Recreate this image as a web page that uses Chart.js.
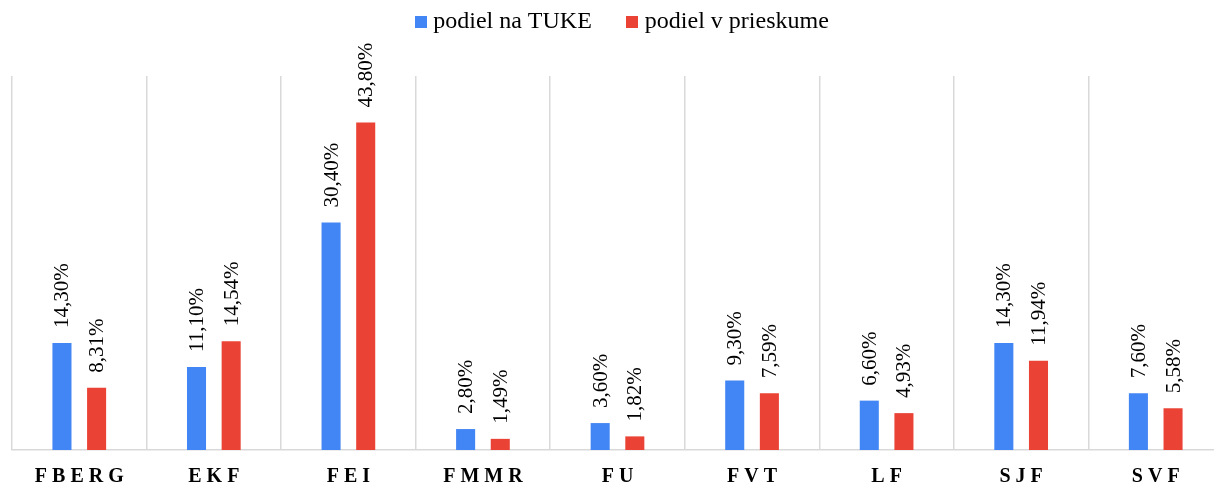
<!DOCTYPE html>
<html>
<head>
<meta charset="utf-8">
<script src="https://cdn.jsdelivr.net/npm/chart.js@4.4.1/dist/chart.umd.min.js"></script>
<style>
  html, body { margin: 0; padding: 0; background: #fff; overflow: hidden; }
  #wrap { position: relative; width: 1230px; height: 504px; }
</style>
</head>
<body>
<div id="wrap"><canvas id="chart"></canvas></div>
<script>
const faculties = ["FBERG", "EKF", "FEI", "FMMR", "FU", "FVT", "LF", "SJF", "SVF"];
const shareTuke = [14.30, 11.10, 30.40, 2.80, 3.60, 9.30, 6.60, 14.30, 7.60];
const shareSurvey = [8.31, 14.54, 43.80, 1.49, 1.82, 7.59, 4.93, 11.94, 5.58];
const colors = ["#4285F4", "#EA4335"];

const FONT = "'Liberation Serif', 'Times New Roman', serif";

// spaced-out axis labels like the original
const tickLabels = faculties.map((f) => f.split("").join(" "));

const fmt = (v) => v.toFixed(2).replace(".", ",") + "%";

// small square swatch, used as legend point so the text sits close to it
function swatch(color) {
  const c = document.createElement("canvas");
  c.width = 12;
  c.height = 12;
  const g = c.getContext("2d");
  g.fillStyle = color;
  g.fillRect(0, 0, 12, 12);
  return c;
}

// push plot area down below the legend, nudge legend a bit right
const legendSpace = {
  id: "legendSpace",
  beforeInit(chart) {
    const lg = chart.legend;
    const fit = lg.fit;
    lg.fit = function () {
      fit.bind(this)();
      this.height += 32;
    };
    const draw = lg.draw;
    lg.draw = function () {
      this.ctx.save();
      this.ctx.translate(7, 0);
      draw.bind(this)();
      this.ctx.restore();
    };
  },
};

// rotated value labels above each bar
const barLabels = {
  id: "barLabels",
  afterDatasetsDraw(chart) {
    const ctx = chart.ctx;
    ctx.save();
    ctx.font = "21px " + FONT;
    ctx.fillStyle = "#000";
    ctx.textAlign = "left";
    ctx.textBaseline = "middle";
    chart.data.datasets.forEach((ds, i) => {
      chart.getDatasetMeta(i).data.forEach((bar, j) => {
        ctx.save();
        ctx.translate(bar.x, bar.y - 15);
        ctx.rotate(-Math.PI / 2);
        ctx.fillText(fmt(ds.data[j]), 0, 1);
        ctx.restore();
      });
    });
    ctx.restore();
  },
};

new Chart(document.getElementById("chart"), {
  type: "bar",
  data: {
    labels: tickLabels,
    datasets: [
      {
        label: "podiel na TUKE",
        data: shareTuke,
        backgroundColor: colors[0],
        categoryPercentage: 0.515,
        barPercentage: 0.55,
      },
      {
        label: "podiel v prieskume",
        data: shareSurvey,
        backgroundColor: colors[1],
        categoryPercentage: 0.515,
        barPercentage: 0.55,
      },
    ],
  },
  options: {
    responsive: true,
    maintainAspectRatio: false,
    animation: false,
    layout: { padding: { left: 12, right: 7, top: 0, bottom: 0 } },
    scales: {
      x: {
        grid: { color: "#d9d9d9", lineWidth: 1.5, drawTicks: false, offset: true },
        border: { color: "#d9d9d9", width: 1.5 },
        ticks: {
          color: "#000",
          padding: 15,
          font: { family: FONT, size: 20, weight: "bold" },
        },
      },
      y: {
        display: false,
        min: 0,
        max: 50,
      },
    },
    plugins: {
      legend: {
        position: "top",
        labels: {
          usePointStyle: true,
          boxWidth: 1,
          boxHeight: 12,
          padding: 10,
          color: "#000",
          font: { family: FONT, size: 24 },
          generateLabels(chart) {
            const items = Chart.defaults.plugins.legend.labels.generateLabels(chart);
            items.forEach((it, i) => {
              it.pointStyle = swatch(colors[i]);
              if (i < items.length - 1) it.text = it.text + "     ";
            });
            return items;
          },
        },
      },
      tooltip: { enabled: false },
    },
  },
  plugins: [legendSpace, barLabels],
});
</script>
</body>
</html>
